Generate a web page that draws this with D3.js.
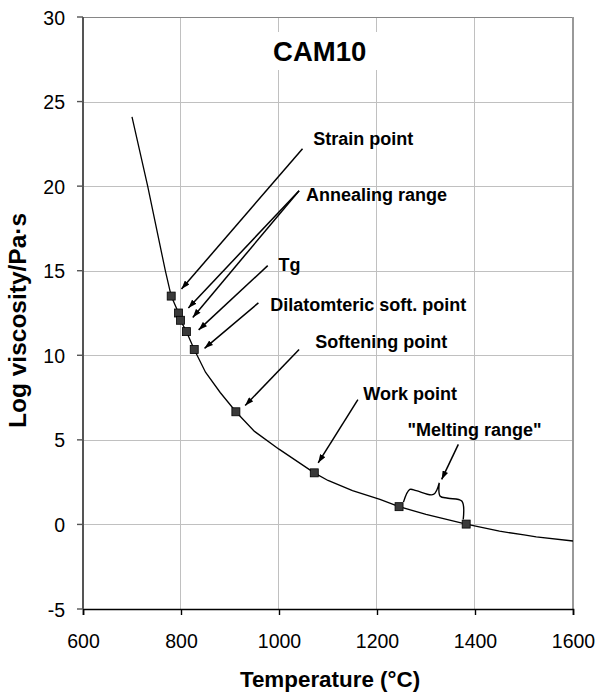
<!DOCTYPE html>
<html>
<head>
<meta charset="utf-8">
<script src="https://cdn.jsdelivr.net/npm/d3@7"></script>
<style>
	body { margin: 0; background: #fff; }
	text { font-family: "Liberation Sans", Arial, sans-serif; fill: #000; }
</style>
</head>
<body>
<div id="chart"></div>
<script>
// viscosity curve (temperature in °C, log viscosity)
var curveT = [700, 732, 768, 780, 795, 799, 811, 827, 850, 880, 912, 950, 1000, 1072, 1100, 1150, 1206, 1245, 1300, 1382, 1450, 1500, 1525, 1600];
var curveLog = [24.1, 20, 15, 13.5, 12.5, 12.07, 11.4, 10.34, 9.0, 7.8, 6.66, 5.5, 4.45, 3.05, 2.6, 2.0, 1.48, 1.05, 0.6, 0.02, -0.4, -0.62, -0.73, -0.98];

// fixed points (squares)
var pointT = [780, 795, 799, 811, 827, 912, 1072, 1245, 1382];
var pointLog = [13.5, 12.5, 12.07, 11.4, 10.34, 6.66, 3.05, 1.05, 0.02];

var xTicks = [600, 800, 1000, 1200, 1400, 1600];
var yTicks = [-5, 0, 5, 10, 15, 20, 25, 30];

// annotation labels, placed in data units
var labelText = ['Strain point', 'Annealing range', 'Tg', 'Dilatomteric soft. point', 'Softening point', 'Work point', '"Melting range"'];
var labelT = [1070, 1055, 999, 982, 1074, 1172, 1262];
var labelLog = [22.45, 19.1, 14.96, 12.6, 10.44, 7.38, 5.22];

// arrows: [fromT, fromLog, toT, toLog]
var arrows = [
	[1048, 22.21, 801, 13.92],
	[1041, 19.73, 815, 12.8],
	[1041, 19.73, 824, 12.24],
	[977, 15.3, 836, 11.5],
	[958, 13.1, 848, 10.41],
	[1041, 10.34, 931, 7.03],
	[1161, 7.38, 1080, 3.64],
	[1366, 4.73, 1332, 2.66]
];

// brace over the melting range
var braceT = [1254, 1267, 1315, 1327, 1329, 1373, 1376];
var braceLog = [1.32, 2.07, 1.77, 2.46, 1.67, 1.38, 0.30];

var W = 598, H = 695;
var margin = { top: 17, right: 25, bottom: 86, left: 83 },
	width = W - margin.left - margin.right,
	height = H - margin.top - margin.bottom;

var x = d3.scaleLinear().domain([600, 1600]).range([margin.left, margin.left + width]);
var y = d3.scaleLinear().domain([-5, 30]).range([margin.top + height, margin.top]);

var svg = d3.select('#chart').append('svg')
	.attr('width', W)
	.attr('height', H)
	.style('display', 'block');

svg.append('defs').append('marker')
	.attr('id', 'head')
	.attr('viewBox', '0 0 10 7')
	.attr('refX', 10)
	.attr('refY', 3.5)
	.attr('markerUnits', 'userSpaceOnUse')
	.attr('markerWidth', 9)
	.attr('markerHeight', 6)
	.attr('orient', 'auto')
	.append('path')
	.attr('d', 'M0,0 L10,3.5 L0,7 z')
	.attr('fill', '#000');

// grid: crisp 1px light gray rects on whole pixels
svg.selectAll('.gx').data(xTicks).enter().append('rect')
	.attr('class', 'gx')
	.attr('x', d => Math.round(x(d)) - 1).attr('y', margin.top)
	.attr('width', 1).attr('height', height)
	.attr('shape-rendering', 'crispEdges')
	.attr('fill', '#c0c0c0');
svg.selectAll('.gy').data(yTicks).enter().append('rect')
	.attr('class', 'gy')
	.attr('x', margin.left).attr('y', d => Math.round(y(d)))
	.attr('width', width).attr('height', 1)
	.attr('shape-rendering', 'crispEdges')
	.attr('fill', '#c0c0c0');

// frame: top and right
svg.append('rect').attr('x', margin.left).attr('y', margin.top).attr('width', width).attr('height', 1)
	.attr('shape-rendering', 'crispEdges').attr('fill', '#868686');
svg.append('rect').attr('x', margin.left + width - 1).attr('y', margin.top).attr('width', 2).attr('height', height)
	.attr('shape-rendering', 'crispEdges').attr('fill', '#999');

// title box and title
var titleX = x(1083);
svg.append('rect').attr('x', titleX - 60).attr('y', margin.top + 15).attr('width', 120).attr('height', 38).attr('fill', '#fff');
svg.append('text').attr('x', titleX).attr('y', margin.top + 44)
	.attr('text-anchor', 'middle')
	.style('font-size', '27.5px').style('font-weight', 'bold')
	.text('CAM10');

// axes
var xAxis = svg.append('g').attr('transform', 'translate(0,' + (margin.top + height) + ')')
	.call(d3.axisBottom(x).tickValues(xTicks).tickSize(6).tickPadding(19).tickFormat(d => String(d)));
var yAxis = svg.append('g').attr('transform', 'translate(' + margin.left + ',0)')
	.call(d3.axisLeft(y).tickValues(yTicks).tickSize(0).tickPadding(18).tickFormat(d => String(d)));
xAxis.select('.domain').style('stroke', '#000').style('stroke-width', '1.6px');
xAxis.selectAll('.tick line').style('stroke', '#000').style('stroke-width', '1.4px');
yAxis.select('.domain').remove();
xAxis.selectAll('.tick text').style('font-size', '19.5px');
yAxis.selectAll('.tick text').style('font-size', '19.5px').attr('dy', '0.36em');

// left axis line and its ticks in dark gray
svg.append('rect').attr('x', margin.left - 1).attr('y', margin.top).attr('width', 2).attr('height', height).attr('fill', '#555');
svg.selectAll('.ytk').data(yTicks).enter().append('rect')
	.attr('class', 'ytk')
	.attr('x', margin.left - 6).attr('y', d => y(d) - 0.7)
	.attr('width', 6).attr('height', 1.4)
	.attr('fill', '#555');

// axis titles
svg.append('text')
	.attr('x', margin.left + width / 2 + 2).attr('y', margin.top + height + 78)
	.attr('text-anchor', 'middle')
	.style('font-size', '22.4px').style('font-weight', 'bold')
	.text('Temperature (°C)');
svg.append('text')
	.attr('transform', 'translate(' + (margin.left - 57) + ',' + y(12.06) + ') rotate(-90)')
	.attr('text-anchor', 'middle')
	.style('font-size', '24.5px').style('font-weight', 'bold')
	.text('Log viscosity/Pa·s');

// curve
var line = d3.line().x(d => x(d[0])).y(d => y(d[1]));
svg.append('path')
	.datum(curveT.map((t, i) => [t, curveLog[i]]))
	.attr('d', line)
	.attr('fill', 'none')
	.attr('stroke', '#000')
	.attr('stroke-width', 1.3);

// brace
var brace = d3.line().x(d => x(d[0])).y(d => y(d[1])).curve(d3.curveCatmullRom.alpha(0.5));
var bp = braceT.map((t, i) => [t, braceLog[i]]);
svg.append('path')
	.attr('d', brace([bp[0], bp[1], [1280, 2.0], bp[2], bp[3]]) + brace([bp[3], bp[4], [1345, 1.55], bp[5], bp[6]]))
	.attr('fill', 'none')
	.attr('stroke', '#000')
	.attr('stroke-width', 1.4);

// points
svg.selectAll('.pt').data(pointT).enter().append('rect')
	.attr('class', 'pt')
	.attr('x', d => x(d) - 4)
	.attr('y', (d, i) => y(pointLog[i]) - 4)
	.attr('width', 8).attr('height', 8)
	.attr('fill', '#3a3a3a')
	.attr('stroke', '#000')
	.attr('stroke-width', 0.8);

// arrows
svg.selectAll('.arrow').data(arrows).enter().append('line')
	.attr('class', 'arrow')
	.attr('x1', d => x(d[0])).attr('y1', d => y(d[1]))
	.attr('x2', d => x(d[2])).attr('y2', d => y(d[3]))
	.attr('stroke', '#000')
	.attr('stroke-width', 1.5)
	.attr('marker-end', 'url(#head)');

// labels
svg.selectAll('.lbl').data(labelText).enter().append('text')
	.attr('class', 'lbl')
	.attr('x', (d, i) => x(labelT[i]))
	.attr('y', (d, i) => y(labelLog[i]))
	.style('font-size', '18px').style('font-weight', 'bold')
	.text(d => d);
</script>
</body>
</html>
